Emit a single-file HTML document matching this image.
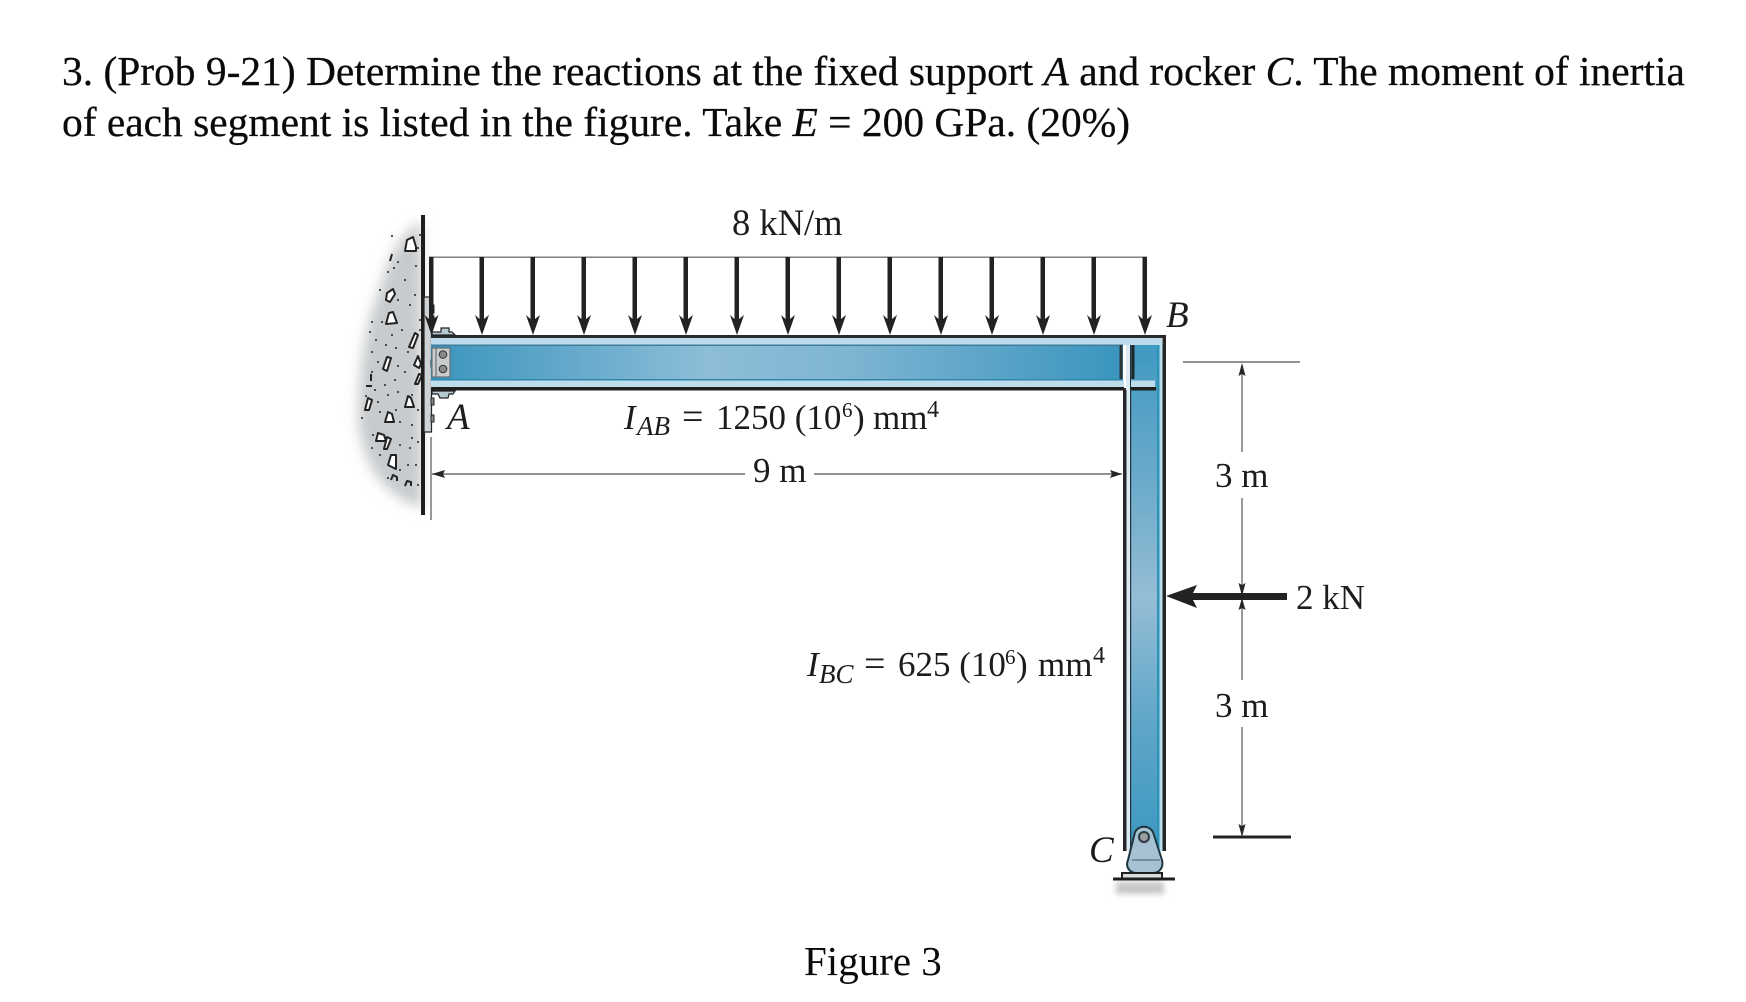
<!DOCTYPE html>
<html><head><meta charset="utf-8"><style>
html,body{margin:0;padding:0;background:#fff}
svg{display:block}
text{font-family:"Liberation Serif",serif;fill:#1c1c1c;font-size:35px}
.i{font-style:italic}
.t{font-size:41.45px;fill:#0a0a0a;stroke:#0a0a0a;stroke-width:.25}
.s{font-size:27px}
.p{font-size:21px}
.q{font-size:24px}
.l{font-size:37px}
</style></head><body>
<svg width="1746" height="1002" viewBox="0 0 1746 1002" xmlns="http://www.w3.org/2000/svg">
<defs>
<filter id="b1" x="-30%" y="-10%" width="160%" height="120%"><feGaussianBlur stdDeviation="6"/></filter>
<filter id="b2" x="-20%" y="-100%" width="140%" height="300%"><feGaussianBlur stdDeviation="3"/></filter>
<linearGradient id="gb" x1="0" x2="1" y1="0" y2="0">
<stop offset="0" stop-color="#3b95bd"/><stop offset=".4" stop-color="#8dbdd8"/><stop offset=".6" stop-color="#7fb5d2"/><stop offset="1" stop-color="#3a95be"/></linearGradient>
<linearGradient id="gc" x1="0" x2="0" y1="0" y2="1">
<stop offset="0" stop-color="#3f99c1"/><stop offset=".35" stop-color="#79b0cd"/><stop offset=".5" stop-color="#95bdd6"/><stop offset=".75" stop-color="#5ea6c8"/><stop offset="1" stop-color="#3c98c0"/></linearGradient>
</defs>

<text class="t" x="62" y="85">3. (Prob 9-21) Determine the reactions at the fixed support <tspan class="i">A</tspan> and rocker <tspan class="i">C</tspan>. The moment of inertia</text>
<text class="t" x="62" y="136">of each segment is listed in the figure. Take <tspan class="i">E</tspan> = 200 GPa. (20%)</text>

<!-- concrete -->
<path d="M422 222 C398 232 386 265 378 295 C366 320 360 360 358 410 C358 455 378 495 422 508 Z" fill="#c8cbcd" filter="url(#b1)"/>
<path d="M409 240v0M418 248v0M398 262v0M405 280v0M394 268v0M416 266v0M388 272v0M380 290v0M398 300v0M410 305v0M415 295v0M372 322v0M382 322v0M392 335v0M402 330v0M370 332v0M376 340v0M386 345v0M396 348v0M408 352v0M372 352v0M378 362v0M398 366v0M405 372v0M395 380v0M385 385v0M375 390v0M366 396v0M378 402v0M398 392v0M412 395v0M362 418v0M380 412v0M400 422v0M412 425v0M373 435v0M400 445v0M418 442v0M410 448v0M380 455v0M388 478v0M408 465v0M416 465v0M372 448v0M400 470v0M418 485v0M420 235v0M392 236v0M420 320v0M420 330v0M418 410v0M412 438v0M372 372v0M396 410v0M388 395v0" stroke="#222" stroke-width="2" stroke-linecap="round"/>
<g fill="#fff" stroke="#222" stroke-width="2" stroke-linejoin="round">
<path d="M405 251l2-11 6-3 3 10 0 4z"/>
<path d="M386 300l1-7 6-4 2 5-5 8z"/>
<path d="M386 324l3-11 4-1 4 11z"/>
<path d="M409 347l6-14 3 2-5 13z"/>
<path d="M383 369l4-12 4 1-4 13z"/>
<path d="M414 365l4-9 3 8-2 4z"/>
<path d="M415 384l4-10 3 1-4 9z"/>
<path d="M365 410l3-12 4 2-3 10z"/>
<path d="M405 407l3-11 3 2 3 9z"/>
<path d="M385 422l3-10 4 2 2 8z"/>
<path d="M376 441l2-8 6 2 2 6z"/>
<path d="M384 449l3-12 4 2-4 10z"/>
<path d="M388 465l3-10 5 0 0 14z"/>
<path d="M391 480l2-5 4 2 0 4" fill="none"/>
<path d="M405 486l2-5 4 1 0 4" fill="none"/>
<path d="M390 261l2-7" fill="none"/>
<path d="M371 381l0-7M366 386h6" fill="none"/>
</g>

<!-- wall + plate -->
<rect x="421" y="215" width="4" height="300" fill="#1d1d1d"/>
<rect x="424" y="297" width="7.500" height="135" fill="#cfd2d5" stroke="#222" stroke-width="1.2"/>
<path d="M431 305h3v8h-3zM431 316h3v8h-3zM431 360h3v7h-3zM431 398h3v7h-3zM431 415h3v7h-3z" fill="#888" stroke="#222"/>

<!-- beam -->
<rect x="431" y="335" width="735" height="3" fill="#2b2b2b"/>
<rect x="431" y="338" width="731" height="7" fill="#bcdaea"/>
<rect x="431" y="345" width="692" height="36" fill="url(#gb)"/>
<rect x="431" y="344.500" width="692" height="1.5" fill="#3f7d9b"/>
<rect x="431" y="379" width="692" height="1.5" fill="#2e86ab"/>
<rect x="431" y="380.500" width="693" height="6.5" fill="#bddcec"/>
<rect x="431" y="387" width="693" height="3.5" fill="#1f1f1f"/>

<!-- column -->
<rect x="1131" y="345" width="28" height="506" fill="url(#gc)"/>
<rect x="1157" y="345" width="2.5" height="506" fill="#2f93b8"/>
<rect x="1159.500" y="345" width="3" height="506" fill="#b9def0"/>
<rect x="1162.500" y="335" width="3.5" height="516" fill="#262626"/>
<rect x="1126.500" y="345" width="3.5" height="506" fill="#dbeaf3"/>
<rect x="1130" y="345" width="1.2" height="506" fill="#27343b"/>
<rect x="1123" y="388" width="3.5" height="463" fill="#262626"/>
<rect x="1119.500" y="345" width="3" height="34" fill="#2a3338"/>
<rect x="1131.500" y="345" width="3" height="34" fill="#1f262a"/>
<rect x="1131" y="380.500" width="24" height="6.5" fill="#bddcec"/>
<rect x="1131" y="387" width="25" height="3.5" fill="#1f1f1f"/>
<rect x="1126" y="345" width="4" height="45" fill="#dbeaf3"/>

<!-- connection -->
<rect x="432" y="348" width="18" height="29" fill="#c9cccd" stroke="#5a6468" stroke-width="1"/>
<path d="M436 348v29" stroke="#5a6468"/>
<circle cx="443" cy="354.500" r="3.8" fill="#888" stroke="#333"/>
<circle cx="443" cy="369" r="3.8" fill="#888" stroke="#333"/>
<path d="M432 335v-3h9v-4h8v4h3l3 3zM432 391v3h6l2 4h8l1-4h4l2-3z" fill="#b7c8d0" stroke="#222" stroke-width="1.2"/>

<!-- load -->
<rect x="429" y="256.500" width="718" height="1.4" fill="#777"/>
<g fill="#222">
<path d="M429 257h4.500v62l5-4-7 20-7-20 4.500 4z"/>
<path d="M480 257h4.500v62l5-4-7 20-7-20 4.500 4z" transform="translate(-.5 0)"/>
<path d="M531 257h4.500v62l5-4-7 20-7-20 4.500 4z" transform="translate(-.5 0)"/>
<path d="M582 257h4.500v62l5-4-7 20-7-20 4.500 4z" transform="translate(-.5 0)"/>
<path d="M633 257h4.500v62l5-4-7 20-7-20 4.500 4z" transform="translate(-.5 0)"/>
<path d="M684 257h4.500v62l5-4-7 20-7-20 4.500 4z" transform="translate(-.5 0)"/>
<path d="M735 257h4.500v62l5-4-7 20-7-20 4.500 4z" transform="translate(-.5 0)"/>
<path d="M786 257h4.500v62l5-4-7 20-7-20 4.500 4z" transform="translate(-.5 0)"/>
<path d="M837 257h4.500v62l5-4-7 20-7-20 4.500 4z" transform="translate(-.5 0)"/>
<path d="M888 257h4.500v62l5-4-7 20-7-20 4.500 4z" transform="translate(-.5 0)"/>
<path d="M939 257h4.500v62l5-4-7 20-7-20 4.500 4z" transform="translate(-.5 0)"/>
<path d="M990 257h4.500v62l5-4-7 20-7-20 4.500 4z" transform="translate(-.5 0)"/>
<path d="M1041 257h4.500v62l5-4-7 20-7-20 4.500 4z" transform="translate(-.5 0)"/>
<path d="M1092 257h4.500v62l5-4-7 20-7-20 4.500 4z" transform="translate(-.5 0)"/>
<path d="M1143 257h4.500v62l5-4-7 20-7-20 4.500 4z" transform="translate(-.5 0)"/>
</g>

<!-- rocker -->
<rect x="1116" y="882" width="48" height="12" fill="#c4c6c8" filter="url(#b2)"/>
<path d="M1135 832c4-7 14-7 18 0l9 28c2 9-4 13-9 13h-17c-6 0-11-6-8-13z" fill="#a6c1d1" stroke="#1e3640" stroke-width="2"/>
<path d="M1132 860h28" stroke="#5b6f7a" stroke-width="1.2"/>
<circle cx="1144" cy="837" r="5" fill="#9a9ea1" stroke="#2a3a42" stroke-width="2"/>
<path d="M1122 879v-6h40v6" fill="#d9dee0" stroke="#1e1e1e" stroke-width="2"/>
<rect x="1113" y="877.500" width="62" height="3" fill="#1e1e1e"/>

<!-- dims -->
<g stroke="#6e6e6e" stroke-width="1.4" fill="none">
<path d="M431 437V520"/>
<path d="M432 474H745M814 474H1122"/>
<path d="M1183 362H1300"/>
<path d="M1242 365V452M1242 498V680M1242 727V835"/>
</g>
<g fill="#262626">
<path d="M432 474l13-4-2 4 2 4z"/>
<path d="M1122 474l-12-4 2 4-2 4z"/>
<path d="M1242 363l-3.500 13 3.500-2 3.500 2z"/>
<path d="M1242 596l-3.500-13 3.500 2 3.500-2z"/>
<path d="M1242 598l-3.500 12 3.500-2 3.500 2z"/>
<path d="M1242 837l-3.500-13 3.500 2 3.500-2z"/>
</g>
<rect x="1213" y="835.500" width="78" height="3" fill="#222"/>
<path d="M1166 596l31-11-4 8h94v7h-94l4 8z" fill="#222"/>

<!-- labels -->
<g>
<text x="732" y="235" style="font-size:36.5px">8 kN/m</text>
<text class="i l" x="447" y="429">A</text>
<text class="i l" x="1166" y="327">B</text>
<text class="i l" x="1089" y="862">C</text>
<text x="1296" y="609">2 kN</text>
<text x="1215" y="487">3 m</text>
<text x="1215" y="717">3 m</text>
<text x="753" y="482">9 m</text>

<text class="i" x="624" y="429">I</text>
<text class="i s" x="637" y="435">AB</text>
<text x="682" y="429" style="font-size:38px">=</text>
<text x="716" y="429">1250 (10</text>
<text class="p" x="842" y="417">6</text>
<text x="853" y="429">)</text>
<text x="873" y="429">mm</text>
<text class="q" x="927" y="417">4</text>

<text class="i" x="807" y="676">I</text>
<text class="i s" x="819" y="683">BC</text>
<text x="864" y="676" style="font-size:38px">=</text>
<text x="898" y="676">625 (10</text>
<text class="p" x="1005" y="664">6</text>
<text x="1016" y="676">)</text>
<text x="1038" y="676">mm</text>
<text class="q" x="1093" y="663">4</text>

<text class="t" x="804" y="975" style="stroke-width:0;font-size:41px">Figure 3</text>
</g>
</svg>
</body></html>
